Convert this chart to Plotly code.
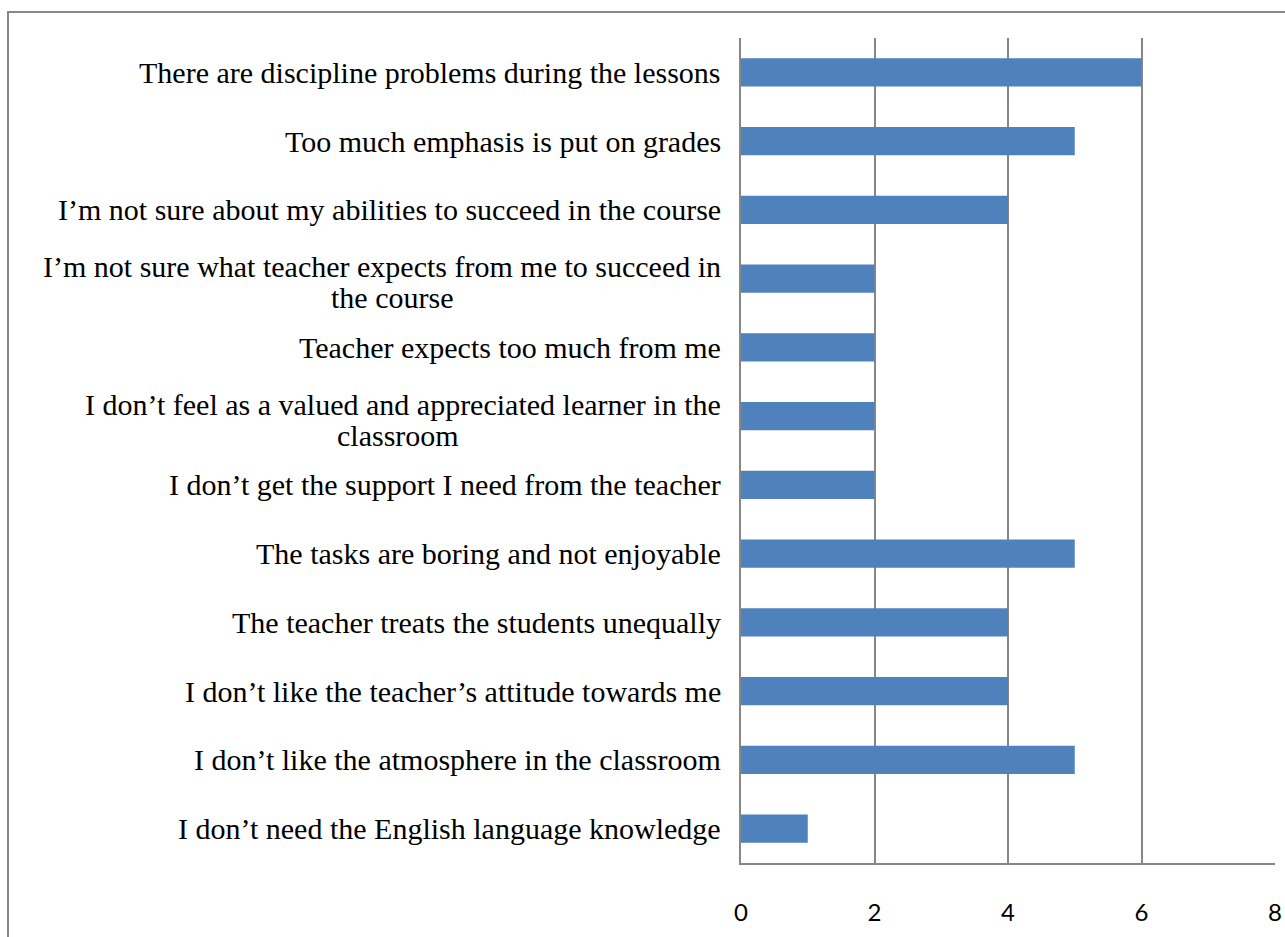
import plotly.graph_objects as go

# Survey statements, listed top to bottom; wrapped ones are split into two lines
statements = [
    ["There are discipline problems during the lessons"],
    ["Too much emphasis is put on grades"],
    ["I’m not sure about my abilities to succeed in the course"],
    ["I’m not sure what teacher expects from me to succeed in", "the course"],
    ["Teacher expects too much from me"],
    ["I don’t feel as a valued and appreciated learner in the", "classroom"],
    ["I don’t get the support I need from the teacher"],
    ["The tasks are boring and not enjoyable"],
    ["The teacher treats the students unequally"],
    ["I don’t like the teacher’s attitude towards me"],
    ["I don’t like the atmosphere in the classroom"],
    ["I don’t need the English language knowledge"],
]
responses = [6, 5, 4, 2, 2, 2, 2, 5, 4, 4, 5, 1]
x_ticks = [0, 2, 4, 6, 8]

W, H = 1285, 937
L, R, T, B = 741, 10, 38, 74
plot_w = W - L - R
plot_h = H - T - B

grey = "#878787"
bar_blue = "#4F81BD"
label_font = dict(family="Liberation Serif", size=30, color="#000000")
label_gap = 18
# approximate rendered width of the first line of each wrapped label,
# used to centre the second line beneath it
first_line_width = {3: 662, 5: 650}

fig = go.Figure()
fig.add_trace(go.Bar(
    x=responses,
    y=list(range(len(statements))),
    orientation="h",
    marker=dict(color=bar_blue, line=dict(width=0)),
    hoverinfo="x",
))

# Category labels as annotations (tight line spacing for wrapped labels)
annotations = []
for i, lines in enumerate(statements):
    if len(lines) == 1:
        annotations.append(dict(
            x=0, y=i, xref="x", yref="y", text=lines[0], showarrow=False,
            xanchor="right", yanchor="middle", xshift=-label_gap,
            font=label_font,
        ))
    else:
        annotations.append(dict(
            x=0, y=i, xref="x", yref="y", text=lines[0], showarrow=False,
            xanchor="right", yanchor="middle", xshift=-label_gap, yshift=12,
            font=label_font,
        ))
        annotations.append(dict(
            x=0, y=i, xref="x", yref="y", text=lines[1], showarrow=False,
            xanchor="center", yanchor="middle",
            xshift=-label_gap - first_line_width[i] / 2, yshift=-19,
            font=label_font,
        ))

# Outer chart frame
def px_to_paper_x(px):
    return (px - L) / plot_w

def px_to_paper_y(py):
    return (H - B - py) / plot_h

shapes = [dict(
    type="rect", xref="paper", yref="paper",
    x0=px_to_paper_x(8), x1=px_to_paper_x(W + 10),
    y0=px_to_paper_y(H + 10), y1=px_to_paper_y(12),
    line=dict(color=grey, width=2), fillcolor="rgba(0,0,0,0)",
    layer="below",
)]

fig.update_layout(
    width=W, height=H, autosize=False,
    margin=dict(l=L, r=R, t=T, b=B, pad=0, autoexpand=False),
    paper_bgcolor="white", plot_bgcolor="white",
    showlegend=False,
    bargap=0.59,
    annotations=annotations,
    shapes=shapes,
    xaxis=dict(
        range=[0, 8], tickvals=x_ticks, ticktext=[str(v) for v in x_ticks],
        showgrid=True, gridcolor=grey, gridwidth=2,
        showline=True, linecolor=grey, linewidth=2,
        zeroline=False, ticks="", automargin=False,
        tickfont=dict(family="Lato", size=24, color="#000000"),
        ticklabelstandoff=27,
    ),
    yaxis=dict(
        range=[len(statements) - 0.5, -0.5],
        showticklabels=False, showgrid=False, zeroline=False, automargin=False,
        showline=True, linecolor=grey, linewidth=2, ticks="",
    ),
)

fig.write_html("out.html")
